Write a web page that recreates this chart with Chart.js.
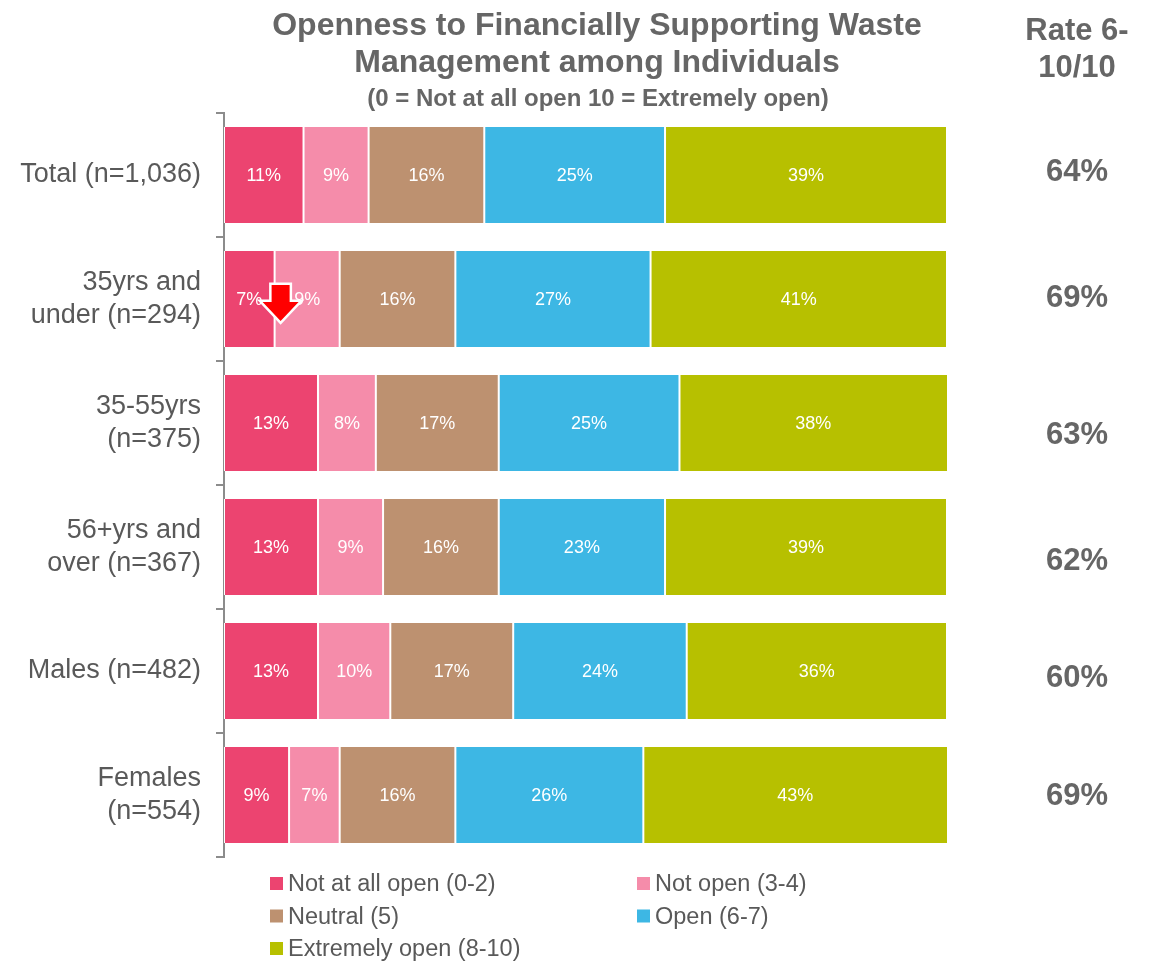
<!DOCTYPE html>
<html>
<head>
<meta charset="utf-8">
<title>Openness to Financially Supporting Waste Management</title>
<script src="https://cdn.jsdelivr.net/npm/chart.js@4"></script>
<style>
  html, body { margin: 0; padding: 0; background: #fff; }
  #wrap { width: 1153px; height: 964px; position: relative; }
</style>
</head>
<body>
<div id="wrap"><canvas id="chart"></canvas></div>
<script>
const groups = [
  ["Total (n=1,036)"],
  ["35yrs and", "under (n=294)"],
  ["35-55yrs", "(n=375)"],
  ["56+yrs and", "over (n=367)"],
  ["Males (n=482)"],
  ["Females", "(n=554)"]
];
const seriesNames = ["Not at all open (0-2)", "Not open (3-4)", "Neutral (5)", "Open (6-7)", "Extremely open (8-10)"];
const notAtAll = [11, 7, 13, 13, 13, 9];
const notOpen = [9, 9, 8, 9, 10, 7];
const neutral = [16, 16, 17, 16, 17, 16];
const open = [25, 27, 25, 23, 24, 26];
const extremely = [39, 41, 38, 39, 36, 43];
const rate = ["64%", "69%", "63%", "62%", "60%", "69%"];

const colors = ["#EC4470", "#F58CAA", "#BD9170", "#3DB7E4", "#B7C000"];
const FONT = "'Liberation Sans', Arial, sans-serif";

// white percentage inside each segment
const segLabels = {
  id: "segLabels",
  afterDatasetsDraw(chart) {
    const ctx = chart.ctx, area = chart.chartArea;
    ctx.save();
    ctx.fillStyle = "#fff";
    ctx.font = "18px " + FONT;
    ctx.textAlign = "center";
    ctx.textBaseline = "middle";
    chart.data.datasets.forEach((ds, i) => {
      chart.getDatasetMeta(i).data.forEach((el, j) => {
        const right = Math.min(el.x, area.right);
        ctx.fillText(ds.data[j] + "%", (el.base + right) / 2, el.y + 1);
      });
    });
    ctx.restore();
  }
};

// title, rate column, arrow marker and two-column legend
const extras = {
  id: "extras",
  afterDraw(chart) {
    const ctx = chart.ctx;
    const y = chart.scales.y;
    ctx.save();
    ctx.fillStyle = "#666";
    ctx.textAlign = "center";
    ctx.textBaseline = "middle";
    ctx.font = "bold 32px " + FONT;
    ctx.fillText("Openness to Financially Supporting Waste", 597, 26);
    ctx.fillText("Management among Individuals", 597, 63);
    ctx.font = "bold 24px " + FONT;
    ctx.fillText("(0 = Not at all open 10 = Extremely open)", 598, 99);

    ctx.font = "bold 31px " + FONT;
    ctx.fillText("Rate 6-", 1077, 31);
    ctx.fillText("10/10", 1077, 68);
    const nudge = [-3, -1, 12, 14, 7, 1];
    rate.forEach((r, i) => {
      ctx.fillText(r, 1077, y.getPixelForValue(i) + nudge[i]);
    });

    // red down arrow over the second row
    const el = chart.getDatasetMeta(1).data[1];
    const cx = el.base + 6, cy = el.y + 4;
    ctx.beginPath();
    ctx.moveTo(cx - 9, cy - 18);
    ctx.lineTo(cx + 9, cy - 18);
    ctx.lineTo(cx + 9, cy - 1);
    ctx.lineTo(cx + 18, cy - 1);
    ctx.lineTo(cx, cy + 18);
    ctx.lineTo(cx - 18, cy - 1);
    ctx.lineTo(cx - 9, cy - 1);
    ctx.closePath();
    ctx.lineJoin = "miter";
    ctx.lineWidth = 5;
    ctx.strokeStyle = "#fff";
    ctx.stroke();
    ctx.fillStyle = "#FF0000";
    ctx.fill();

    // legend
    ctx.font = "23.5px " + FONT;
    ctx.textAlign = "left";
    const cols = [270, 637];
    seriesNames.forEach((name, i) => {
      const lx = cols[i % 2], ly = 884 + Math.floor(i / 2) * 32.5;
      ctx.fillStyle = colors[i];
      ctx.fillRect(lx, ly - 7, 13, 13);
      ctx.fillStyle = "#595959";
      ctx.fillText(name, lx + 18, ly + 1);
    });
    ctx.restore();
  }
};

const values = [notAtAll, notOpen, neutral, open, extremely];

new Chart(document.getElementById("chart"), {
  type: "bar",
  data: {
    labels: groups,
    datasets: values.map((v, i) => ({
      label: seriesNames[i],
      data: v,
      backgroundColor: colors[i],
      borderColor: "#fff",
      borderWidth: { left: 1, right: 1, top: 0, bottom: 0 },
      borderSkipped: false,
      barPercentage: 0.775,
      categoryPercentage: 1
    }))
  },
  options: {
    indexAxis: "y",
    responsive: true,
    maintainAspectRatio: false,
    animation: false,
    layout: { padding: { top: 113, bottom: 107, right: 206, left: 0 } },
    plugins: {
      legend: { display: false },
      tooltip: { enabled: false }
    },
    scales: {
      x: { stacked: true, min: 0, max: 100, display: false },
      y: {
        stacked: true,
        offset: true,
        afterFit(s) { s.width = 224; },
        border: { color: "#8c8c8c", width: 2 },
        grid: { offset: true, drawOnChartArea: false, tickLength: 8, color: "#8c8c8c", lineWidth: 2 },
        ticks: {
          color: "#595959",
          padding: 15,
          font: { family: FONT, size: 27 },
          lineHeight: 1.11
        }
      }
    }
  },
  plugins: [segLabels, extras]
});
</script>
</body>
</html>
